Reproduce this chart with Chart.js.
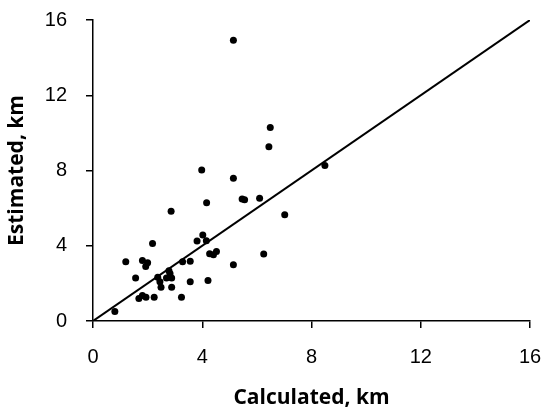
<!DOCTYPE html>
<html>
<head>
<meta charset="utf-8">
<script src="https://cdn.jsdelivr.net/npm/chart.js@4/dist/chart.umd.min.js"></script>
<style>
  html, body { margin: 0; padding: 0; background: #fff; }
  #wrap { width: 545px; height: 411px; }
</style>
</head>
<body>
<div id="wrap"><canvas id="myChart" width="545" height="411"></canvas></div>
<script>
// calculated vs estimated distance, km
let calculated = [0.80, 1.20, 1.56, 1.81, 2.00, 1.93, 1.68, 1.81, 1.94, 2.18, 2.24, 2.37, 2.45, 2.49, 2.69,
    2.78, 2.82, 2.88, 2.88, 2.86, 3.24, 3.28, 3.56, 3.56, 3.81, 3.98, 4.02, 4.15, 4.16, 4.21,
    4.27, 4.41, 4.52, 5.14, 5.14, 5.14, 5.46, 5.55, 6.10, 6.25, 6.44, 6.49, 7.02, 8.49];
let estimated = [0.50, 3.15, 2.29, 3.22, 3.09, 2.90, 1.19, 1.35, 1.26, 4.12, 1.26, 2.33, 2.08, 1.80, 2.29,
    2.67, 2.52, 2.29, 1.80, 5.83, 1.26, 3.15, 3.18, 2.08, 4.25, 8.02, 4.57, 4.27, 6.28, 2.15,
    3.57, 3.52, 3.70, 14.92, 7.59, 2.99, 6.49, 6.44, 6.52, 3.56, 9.26, 10.29, 5.65, 8.27];
// 1:1 line
let lineX = [0, 16];
let lineY = [0, 16];
let tickValues = [0, 4, 8, 12, 16];

let points = calculated.map((v, i) => ({ x: v, y: estimated[i] }));
let linePts = lineX.map((v, i) => ({ x: v, y: lineY[i] }));

let tickFont = { family: "'Liberation Sans', Arial, sans-serif", size: 20 };
let titleFont = { family: "'Open Sans', 'Liberation Sans', sans-serif", size: 21, weight: 'bold' };

// fixed box sizes, no overflow padding from tick labels
function fitX(s) {
    s.height = 90;
    s.paddingLeft = 0; s.paddingRight = 0;
}
function fitY(s) {
    s.width = 93;
    s.paddingTop = 0; s.paddingBottom = 0;
}

let data = {
    datasets: [
        {
            type: 'scatter',
            label: 'points',
            data: points,
            pointRadius: 3.5,
            pointBackgroundColor: '#000',
            pointBorderColor: '#000',
            pointBorderWidth: 0,
        },
        {
            type: 'line',
            label: '1:1',
            data: linePts,
            borderColor: '#000',
            borderWidth: 2,
            pointRadius: 0,
            fill: false,
        }
    ]
};

let options = {
    responsive: false,
    animation: false,
    layout: { padding: { top: 20, right: 15, left: 0, bottom: 0 } },
    plugins: { legend: { display: false }, tooltip: { enabled: false } },
    scales: {
        x: {
            type: 'linear',
            min: 0, max: 16,
            afterBuildTicks: (s) => { s.ticks = tickValues.map(v => ({ value: v })); },
            afterFit: fitX,
            border: { color: '#000', width: 1.5 },
            grid: { drawOnChartArea: false, drawTicks: true, tickLength: 7, color: '#000', lineWidth: 1.5 },
            ticks: { color: '#000', font: tickFont, padding: 17, maxRotation: 0 },
            title: { display: true, text: 'Calculated, km', color: '#000', font: titleFont, padding: { top: 0, bottom: 0 } }
        },
        y: {
            type: 'linear',
            min: 0, max: 16,
            afterBuildTicks: (s) => { s.ticks = tickValues.map(v => ({ value: v })); },
            afterFit: fitY,
            border: { color: '#000', width: 1.5 },
            grid: { drawOnChartArea: false, drawTicks: true, tickLength: 7, color: '#000', lineWidth: 1.5 },
            ticks: { color: '#000', font: tickFont, padding: 19 },
            title: { display: true, text: 'Estimated, km', color: '#000', font: titleFont, padding: { top: 4, bottom: 0 } }
        }
    }
};

let ctx = document.getElementById("myChart").getContext("2d");
let myChart = new Chart(ctx, {
    data: data,
    options: options
});
</script>
</body>
</html>
